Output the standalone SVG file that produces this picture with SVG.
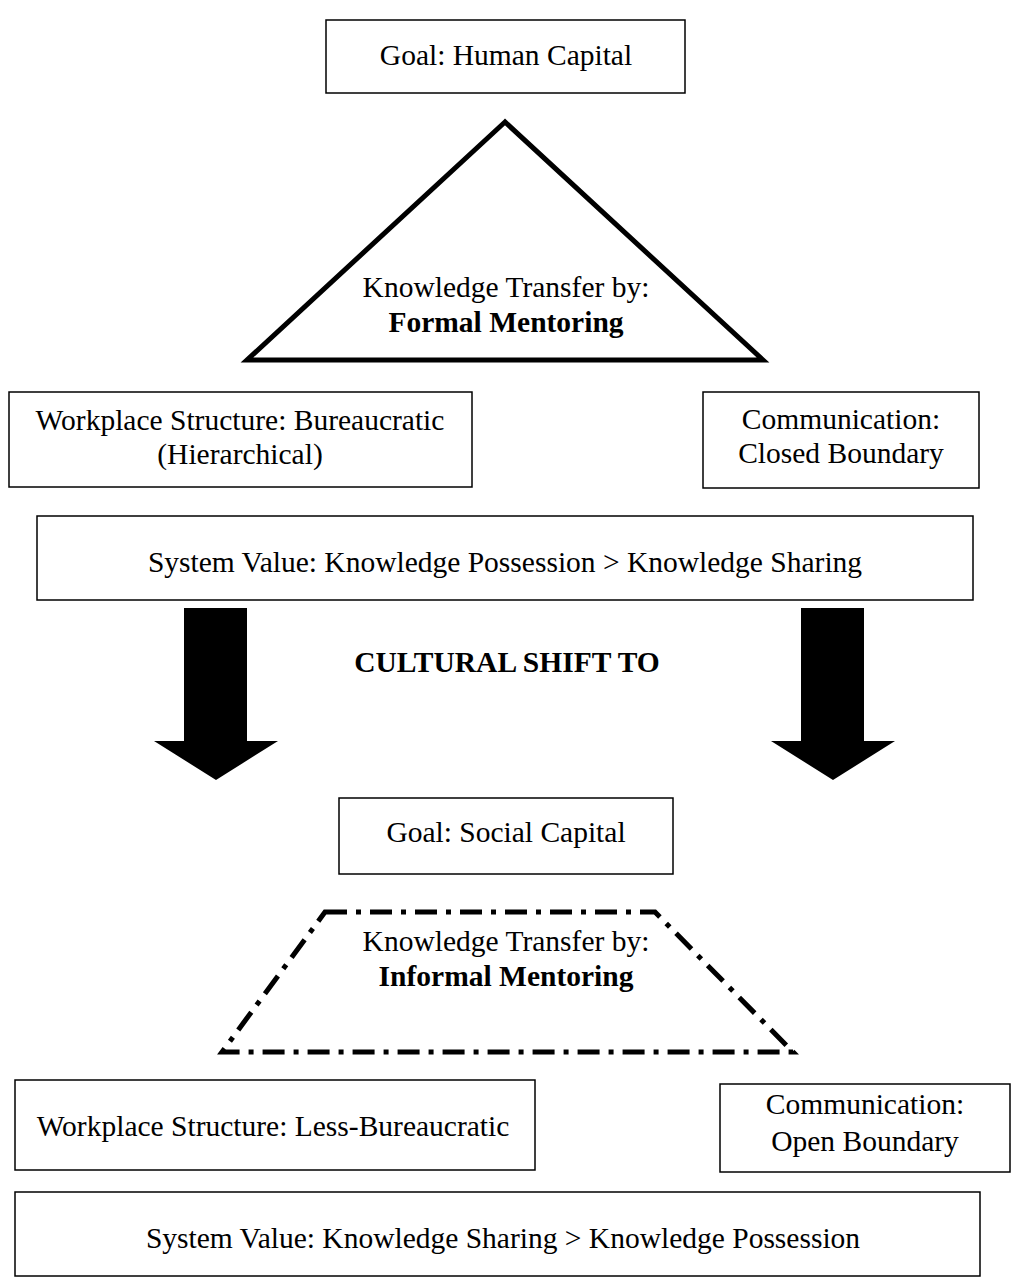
<svg xmlns="http://www.w3.org/2000/svg" width="1019" height="1279" viewBox="0 0 1019 1279">
<style>
.box{fill:#fff;stroke:#000;stroke-width:1.5}
.t{font-family:"Liberation Serif","Times New Roman",serif;font-size:29.5px;fill:#000;text-anchor:middle}
.b{font-weight:bold}
</style>
<rect width="1019" height="1279" fill="#fff"/>
<g id="goal-human"><rect class="box" x="326" y="20" width="359" height="73"/><text class="t" x="506" y="65">Goal: Human Capital</text></g>
<g id="formal-mentoring"><polygon points="505,122 247,360 763,360" fill="#fff" stroke="#000" stroke-width="5" stroke-linejoin="miter"/><text class="t" x="506" y="297">Knowledge Transfer by:</text><text class="t b" x="506" y="332">Formal Mentoring</text></g>
<g id="workplace-bureaucratic"><rect class="box" x="9" y="392" width="463" height="95"/><text class="t" x="240" y="430">Workplace Structure: Bureaucratic</text><text class="t" x="240" y="464">(Hierarchical)</text></g>
<g id="comm-closed"><rect class="box" x="703" y="392" width="276" height="96"/><text class="t" x="841" y="429">Communication:</text><text class="t" x="841" y="463">Closed Boundary</text></g>
<g id="system-possession"><rect class="box" x="37" y="516" width="936" height="84"/><text class="t" x="505" y="572">System Value: Knowledge Possession &gt; Knowledge Sharing</text></g>
<g id="shift-label"><text class="t b" x="507" y="672">CULTURAL SHIFT TO</text></g>
<g id="connectors">
<polygon points="184,608 247,608 247,741 278,741 216,780 154,741 184,741" fill="#000"/>
<polygon points="801,608 864,608 864,741 895,741 833,780 771,741 801,741" fill="#000"/>
</g>
<g id="goal-social"><rect class="box" x="339" y="798" width="334" height="76"/><text class="t" x="506" y="842">Goal: Social Capital</text></g>
<g id="informal-mentoring"><polygon points="325,912 655,912 793,1052 222,1052" fill="none" stroke="#000" stroke-width="5" stroke-dasharray="22,9,5,9"/><text class="t" x="506" y="951">Knowledge Transfer by:</text><text class="t b" x="506" y="986">Informal Mentoring</text></g>
<g id="workplace-less"><rect class="box" x="15" y="1080" width="520" height="90"/><text class="t" x="273" y="1136">Workplace Structure: Less-Bureaucratic</text></g>
<g id="comm-open"><rect class="box" x="720" y="1084" width="290" height="88"/><text class="t" x="865" y="1114">Communication:</text><text class="t" x="865" y="1151">Open Boundary</text></g>
<g id="system-sharing"><rect class="box" x="15" y="1192" width="965" height="84"/><text class="t" x="503" y="1248">System Value: Knowledge Sharing &gt; Knowledge Possession</text></g>
</svg>
